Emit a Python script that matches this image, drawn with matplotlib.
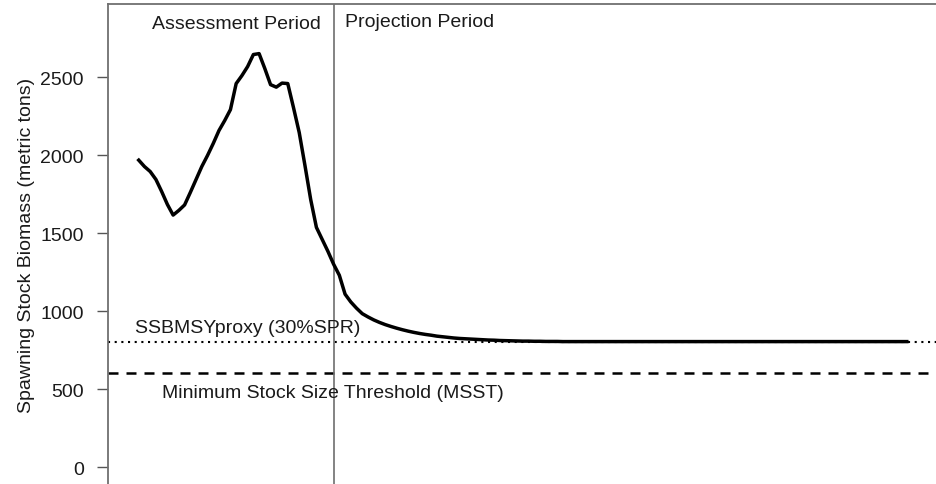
import numpy as np
import matplotlib
matplotlib.use('Agg')
from matplotlib import pyplot as plt

plt.rcParams['font.family'] = ['Liberation Sans', 'DejaVu Sans']

# Spawning stock biomass (metric tons), one value per year
assess_years = list(range(1982, 2016))
assess_ssb = [1969, 1928, 1896, 1845, 1768, 1685, 1617, 1647, 1682, 1762,
              1845, 1928, 1999, 2076, 2159, 2223, 2293, 2460, 2511, 2569,
              2646, 2652, 2556, 2453, 2437, 2463, 2460, 2306, 2146, 1935,
              1717, 1538, 1461, 1385]

proj_years = list(range(2016, 2117))
proj_ssb = [1302, 1231, 1110, 1060, 1020, 985, 964, 945, 929, 915,
            903, 892, 882, 873, 865, 858, 852, 847, 841, 837,
            833, 829, 826, 824, 822, 820, 818, 816, 815, 813,
            812, 811, 810, 809, 809, 808, 808, 807, 807, 807,
            806, 806, 806, 806, 806, 806, 806, 806, 806, 806,
            806, 806, 806, 806, 806, 806, 806, 806, 806, 806,
            806, 806, 806, 806, 806, 806, 806, 806, 806, 806,
            806, 806, 806, 806, 806, 806, 806, 806, 806, 806,
            806, 806, 806, 806, 806, 806, 806, 806, 806, 806,
            806, 806, 806, 806, 806, 806, 806, 806, 806, 806,
            806]

ssb_msy = 806
msst = 604
split_year = 2016
y_ticks = [0, 500, 1000, 1500, 2000, 2500]


def main():
    years = assess_years + proj_years
    ssb = assess_ssb + proj_ssb

    fig = plt.figure(figsize=(9.36, 4.85), dpi=100)
    # axes run past the bottom and right edge of the picture
    ax = fig.add_axes([0.1154, -0.0023, 0.8862, 0.992])

    span = years[-1] - years[0]
    ax.set_xlim(years[0] - 0.04 * span, years[-1] + 0.04 * span)
    ax.set_ylim(-114, 2970)

    ax.axhline(ssb_msy, color='black', lw=1.5, ls=(0, (1.0, 2.2)))
    ax.axhline(msst, color='black', lw=1.8, ls=(0, (4.0, 3.2)))
    ax.axvline(split_year, color='#6e6e6e', lw=1.2)
    ax.plot(years, ssb, color='black', lw=2.5, solid_joinstyle='round')

    txt = dict(fontsize=14, color='#1a1a1a', va='center')
    ax.text(1999.1, 2845, 'Assessment Period', ha='center', **txt)
    ax.text(2018.0, 2857, 'Projection Period', ha='left', **txt)
    ax.text(1981.3, 899, 'SSBMSYproxy (30%SPR)', ha='left', **txt)
    ax.text(1986.0, 482, 'Minimum Stock Size Threshold (MSST)', ha='left', **txt)

    ax.set_yticks(y_ticks)
    ax.set_xticks([])
    ax.tick_params(axis='y', length=8, width=1.0, color='#555555', pad=9.5, labelsize=14,
                   labelcolor='#1a1a1a')
    for side in ['left', 'top', 'right', 'bottom']:
        ax.spines[side].set_color('#707070')
        ax.spines[side].set_linewidth(1.3)
    ax.set_ylabel('Spawning Stock Biomass (metric tons)', fontsize=14, color='#1a1a1a', labelpad=4)

    plt.savefig('out.png', dpi=100)


if __name__ == '__main__':
    main()
